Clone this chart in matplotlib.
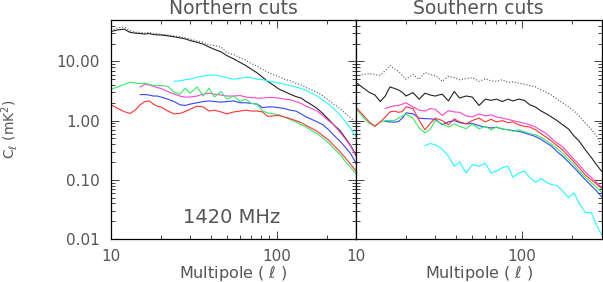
import numpy as np
import matplotlib
matplotlib.use("Agg")
import matplotlib.pyplot as plt
from matplotlib.ticker import LogLocator, FixedLocator, FixedFormatter, NullFormatter

# multipole grid shared by all curves
ell = [10, 11, 12, 13, 14, 15, 16, 17, 18, 19, 20, 22, 24, 26, 28, 30, 33, 36, 39, 42,
       46, 50, 55, 60, 65, 70, 76, 82, 88, 95, 103, 111, 120, 130, 140, 150, 162, 175,
       190, 205, 220, 240, 260, 280, 300]
nan = np.nan

# ---- Northern cuts (left panel) ----
n_black = [32, 34, 35, 31, 30, 29.5, 29, 29.5, 28.5, 28, 28, 27, 26, 25, 24, 22.5, 21, 19.5,
           17.5, 16, 14.5, 12.5, 11, 9.6, 8.5, 7.4, 6.4, 5.4, 4.6, 4.0, 3.4, 3.1, 2.8, 2.55,
           2.4, 2.1, 1.85, 1.6, 1.3, 1.05, 0.85, 0.68, 0.5, 0.37, 0.26]
n_dotted = [33, 37, 38, 33, 31, 31, 30, 31, 29, 29.5, 28.5, 28, 27, 26, 25, 24, 22, 21, 19,
            18.5, 17.5, 14, 13, 11.5, 10.5, 9.2, 8.3, 7.3, 6.6, 6.0, 5.5, 5.0, 4.7, 4.3,
            4.0, 3.6, 3.3, 3.0, 2.6, 2.2, 1.9, 1.6, 1.3, 1.1, 0.9]
n_cyan = [nan] * 12 + [4.6, 4.7, 4.9, 5.0, 5.4, 5.7, 5.8, 5.9, 5.6, 5.3, 5.0, 5.2, 5.4, 5.3,
                       5.0, 4.9, 4.7, 4.5, 4.3, 4.1, 3.9, 3.7, 3.5, 3.2, 2.9, 2.6, 2.2, 1.9,
                       1.6, 1.25, 0.95, 0.72, 0.53]
n_magenta = [nan] * 5 + [3.7, 4.1, 4.0, 3.8, 3.6, 3.5, 3.1, 2.8, 2.6, 2.5, 2.5, 2.6, 2.8,
                         2.9, 2.8, 2.7, 2.6, 2.6, 2.65, 2.5, 2.45, 2.4, 2.4, 2.45, 2.45, 2.4,
                         2.3, 2.25, 2.1, 1.95, 1.75, 1.6, 1.45, 1.2, 1.0, 0.85, 0.64, 0.48,
                         0.36, 0.25]
n_blue = [nan] * 5 + [2.75, 2.75, 2.7, 2.6, 2.6, 2.5, 2.3, 2.1, 1.85, 1.8, 1.9, 2.0, 2.1,
                      2.15, 2.1, 2.05, 2.1, 2.15, 2.0, 2.0, 1.95, 1.9, 1.65, 1.7, 1.7, 1.65,
                      1.6, 1.5, 1.45, 1.3, 1.15, 1.05, 0.95, 0.85, 0.7, 0.57, 0.45, 0.35,
                      0.27, 0.19]
n_green = [3.4, 3.7, 4.1, 4.45, 4.3, 4.2, 4.3, 4.1, 3.9, 3.9, 3.9, 3.8, 3.0, 2.8, 3.5, 2.9,
           3.7, 2.6, 3.5, 2.5, 3.1, 2.3, 2.6, 2.1, 2.3, 1.95, 1.9, 1.45, 1.35, 1.3, 1.25,
           1.15, 1.05, 0.95, 0.85, 0.78, 0.68, 0.6, 0.5, 0.42, 0.34, 0.27, 0.2, 0.16, 0.125]
n_red = [1.85, 1.6, 1.42, 1.32, 1.5, 1.85, 2.1, 2.15, 1.9, 1.75, 1.7, 1.45, 1.3, 1.32, 1.42,
         1.55, 1.75, 1.7, 1.45, 1.5, 1.4, 1.3, 1.4, 1.45, 1.5, 1.45, 1.45, 1.4, 1.18, 1.2,
         1.22, 1.15, 1.08, 1.0, 0.92, 0.83, 0.74, 0.66, 0.55, 0.47, 0.38, 0.3, 0.23, 0.18,
         0.14]

# ---- Southern cuts (right panel) ----
s_black = [4.4, 3.6, 3.0, 2.7, 2.1, 2.6, 3.7, 3.5, 3.3, 3.0, 2.6, 2.97, 2.3, 2.9, 2.7, 2.6,
           2.8, 2.15, 3.1, 2.4, 2.6, 2.5, 1.8, 2.3, 2.2, 2.3, 2.1, 2.3, 2.15, 2.3, 2.2, 1.85,
           1.7, 1.45, 1.3, 1.15, 1.0, 0.85, 0.72, 0.55, 0.45, 0.32, 0.24, 0.18, 0.14]
s_dotted = [5.6, 6.0, 6.2, 6.0, 5.8, 7.0, 8.5, 7.5, 6.8, 5.8, 5.0, 6.0, 5.0, 6.5, 6.0, 5.8,
            4.6, 5.6, 5.3, 4.9, 5.1, 5.3, 4.6, 5.1, 4.7, 4.6, 4.9, 4.4, 4.5, 4.3, 4.1, 3.9,
            3.7, 3.3, 3.0, 2.7, 2.3, 2.0, 1.7, 1.45, 1.2, 0.9, 0.72, 0.55, 0.38]
s_cyan = [nan] * 13 + [0.38, 0.41, 0.39, 0.33, 0.25, 0.17, 0.2, 0.13, 0.18, 0.17, 0.19,
                       0.13, 0.14, 0.16, 0.17, 0.11, 0.13, 0.14, 0.11, 0.09, 0.105, 0.09,
                       0.083, 0.08, 0.065, 0.05, 0.06, 0.04, 0.028, 0.028, 0.017, 0.012]
s_magenta = [nan] * 5 + [1.6, 1.7, 1.78, 1.8, 1.9, 2.0, 1.7, 1.5, 1.45, 1.6, 1.55, 1.22,
                         1.47, 1.4, 1.38, 1.2, 1.15, 1.3, 1.2, 1.25, 1.15, 1.1, 1.05, 1.0,
                         0.95, 0.9, 0.85, 0.78, 0.68, 0.6, 0.5, 0.42, 0.36, 0.28, 0.22, 0.18,
                         0.135, 0.11, 0.09, 0.075]
s_blue = [nan] * 5 + [0.97, 0.95, 0.94, 0.96, 1.1, 1.35, 1.3, 1.1, 1.08, 1.07, 1.05, 0.85,
                      0.95, 1.0, 0.92, 0.88, 0.9, 0.82, 0.78, 0.75, 0.77, 0.72, 0.7, 0.68,
                      0.66, 0.62, 0.58, 0.54, 0.48, 0.42, 0.37, 0.3, 0.25, 0.2, 0.16, 0.13,
                      0.1, 0.08, 0.065, 0.052]
s_green = [1.57, 1.15, 0.9, 0.82, 0.95, 1.0, 1.0, 1.0, 1.1, 1.2, 1.29, 1.1, 0.75, 0.62, 0.72,
           1.0, 0.88, 0.78, 0.88, 0.8, 0.73, 0.88, 0.73, 0.8, 0.7, 0.78, 0.72, 0.7, 0.66,
           0.7, 0.65, 0.6, 0.58, 0.52, 0.46, 0.4, 0.34, 0.28, 0.22, 0.18, 0.14, 0.11, 0.09,
           0.075, 0.062]
s_red = [1.67, 1.25, 0.95, 0.8, 0.95, 1.15, 1.4, 1.45, 1.38, 1.42, 1.7, 1.6, 1.0, 0.7, 0.9,
         1.1, 1.0, 0.85, 1.07, 0.95, 0.88, 1.0, 1.1, 0.95, 1.05, 0.95, 1.0, 0.92, 0.95, 0.85,
         0.8, 0.78, 0.7, 0.6, 0.52, 0.45, 0.38, 0.32, 0.25, 0.2, 0.16, 0.12, 0.1, 0.085,
         0.072]

panels = [
    ("Northern cuts", [n_dotted, n_black, n_cyan, n_magenta, n_blue, n_green, n_red]),
    ("Southern cuts", [s_dotted, s_black, s_cyan, s_magenta, s_blue, s_green, s_red]),
]
styles = [("#555555", ":"), ("#222222", "-"), ("#22ffff", "-"), ("#ff44cc", "-"),
          ("#3344ff", "-"), ("#33ee66", "-"), ("#ff3333", "-")]
txt = "#555555"

fig = plt.figure(figsize=(6.03, 2.82), dpi=100)
W, H = 603, 282
boxes = [(111, 356), (356, 601.5)]
top, bottom = 20, 239

for i, ((title, curves), (x0, x1)) in enumerate(zip(panels, boxes)):
    ax = fig.add_axes([x0 / W, 1 - bottom / H, (x1 - x0) / W, (bottom - top) / H])
    for vals, (c, ls) in zip(curves, styles):
        ax.plot(ell, vals, color=c, ls=ls, lw=0.8)
    ax.set_xscale("log")
    ax.set_yscale("log")
    ax.set_xlim(10, 300)
    ax.set_ylim(0.01, 50)
    ax.xaxis.set_major_locator(FixedLocator([10, 100]))
    ax.xaxis.set_major_formatter(FixedFormatter(["10", "100"]))
    ax.xaxis.set_minor_locator(LogLocator(base=10, subs=np.arange(2, 10)))
    ax.xaxis.set_minor_formatter(NullFormatter())
    ax.yaxis.set_major_locator(FixedLocator([0.01, 0.1, 1, 10]))
    ax.yaxis.set_major_formatter(FixedFormatter(["0.01", "0.10", "1.00", "10.00"]))
    ax.yaxis.set_minor_locator(LogLocator(base=10, subs=np.arange(2, 10)))
    ax.yaxis.set_minor_formatter(NullFormatter())
    ax.tick_params(which="both", direction="in", top=True, right=True, colors="#222222",
                   labelcolor=txt, width=0.6)
    ax.tick_params(which="major", length=6, labelsize=11)
    ax.tick_params(which="minor", length=3)
    ax.tick_params(axis="x", pad=7)
    ax.tick_params(axis="y", pad=8)
    for s in ax.spines.values():
        s.set_linewidth(0.9)
    ax.set_title(title, fontsize=13.5, color=txt, pad=4)
    ax.set_xlabel(r"Multipole ( $\ell$ )", fontsize=11.5, color=txt, va="top")
    ax.xaxis.set_label_coords(0.5, -0.112)
    if i == 0:
        ax.set_ylabel(r"C$_\ell$ (mK$^2$)", fontsize=10, color=txt)
        ax.yaxis.set_label_coords(-0.37, 0.5)
        ax.text(53, 0.023, "1420 MHz", ha="center", va="center", fontsize=14, color=txt)
    else:
        ax.tick_params(axis="y", labelleft=False)

fig.savefig("out.png", dpi=100)
